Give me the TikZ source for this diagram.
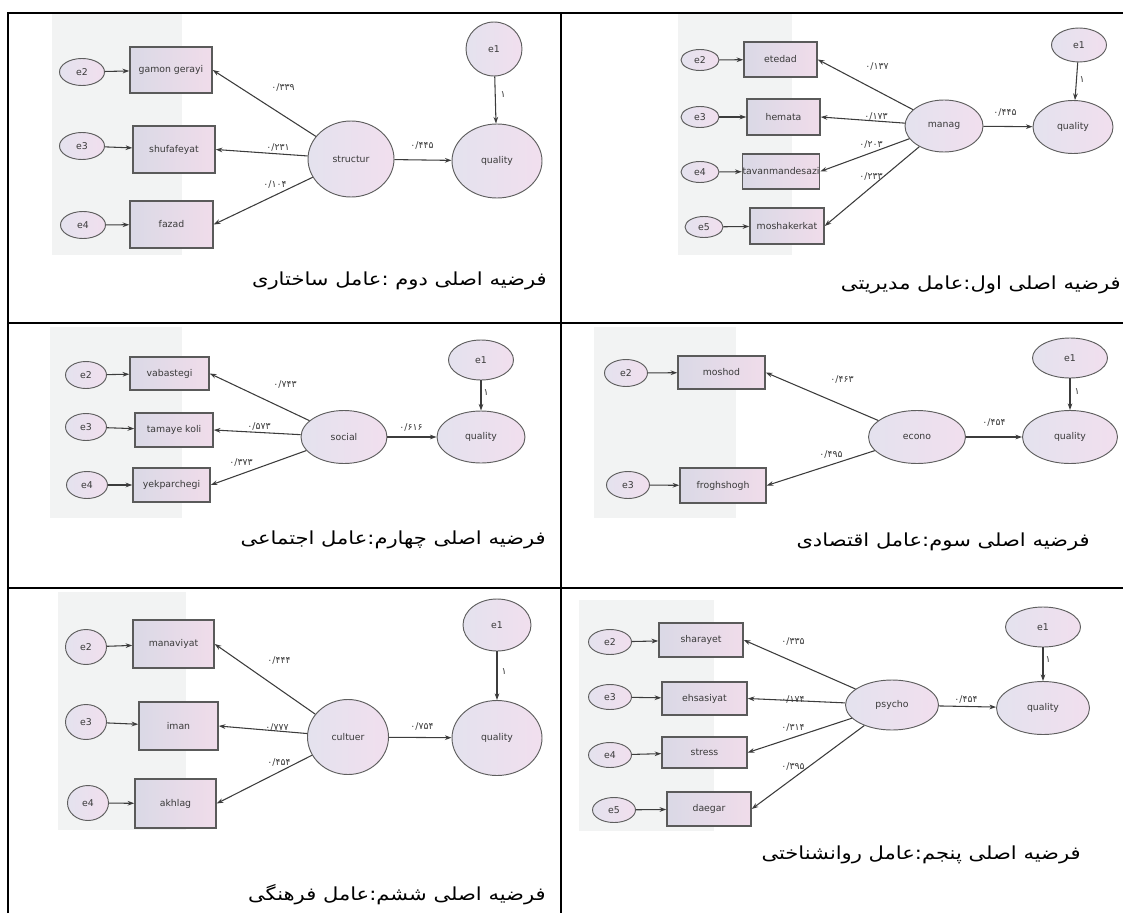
\documentclass[tikz,border=0pt]{standalone}
\usepackage{fontspec}
\setmainfont{DejaVu Sans}
\newfontfamily\persianfont[Script=Arabic]{DejaVu Sans}
\newfontfamily\persiancap[Script=Arabic,FakeStretch=1.17]{DejaVu Sans}
\TeXXeTstate=1
\usetikzlibrary{arrows.meta,shapes.geometric}
\definecolor{bgc}{HTML}{F2F3F3}
\definecolor{ellL}{HTML}{E4E2EE}
\definecolor{ellR}{HTML}{F1DFEE}
\definecolor{boxL}{HTML}{DAD9E6}
\definecolor{boxR}{HTML}{F0DCEA}
\definecolor{latline}{HTML}{5E5E5E}
\definecolor{boxline}{HTML}{5A5A5A}
\definecolor{arrc}{HTML}{3C3C3C}
\definecolor{txt}{HTML}{3A3A3A}
\tikzset{
  lat/.style={ellipse, draw=latline, line width=0.7pt, left color=ellL, right color=ellR, inner sep=0pt, font=\fontsize{7}{8}\selectfont, text=txt},
  obs/.style={rectangle, draw=boxline, line width=1.1pt, left color=boxL, right color=boxR, inner sep=0pt, font=\fontsize{7}{8}\selectfont, text=txt},
  arr/.style={-{Stealth[length=5pt,width=3.5pt]}, draw=arrc, line width=0.8pt},
  lbl/.style={font=\persianfont\fontsize{7}{8}\selectfont, text=txt, inner sep=0pt},
  captext/.style={font=\persiancap\fontsize{13.5}{15}\selectfont, anchor=east, inner sep=0pt},
  bgbox/.style={fill=bgc, draw=none},
  tbl/.style={line width=1.5pt, draw=black}
}
\newcommand\Lv[6]{\node[lat,minimum width={#4*0.75pt},minimum height={#5*0.75pt}] (#1) at (#2,#3) {#6};}
\newcommand\Ob[6]{\node[obs,minimum width={(#4-#2)*0.75pt},minimum height={(#5-#3)*0.75pt}] (#1) at ({(#2+#4)/2},{(#3+#5)/2}) {#6};}
\begin{document}
\begin{tikzpicture}[x=0.75pt,y=-0.75pt]
\useasboundingbox (0,0) rectangle (1123,913);
% gray backgrounds
\fill[bgbox] (52,13) rectangle (182,255);
\fill[bgbox] (678,13) rectangle (792,255);
\fill[bgbox] (50,327) rectangle (182,518);
\fill[bgbox] (594,327) rectangle (736,518);
\fill[bgbox] (58,592) rectangle (186,830);
\fill[bgbox] (579,600) rectangle (714,831);
% ---------- cell 1 : structur ----------
\Lv{a2}{82}{72}{45}{27}{e2}
\Lv{a3}{82}{146}{45}{27}{e3}
\Lv{a4}{83}{225}{45}{27}{e4}
\Ob{ab1}{130}{47}{212}{93}{gamon gerayi}
\Ob{ab2}{133}{126}{215}{173}{shufafeyat}
\Ob{ab3}{130}{201}{213}{248}{fazad}
\Lv{aS}{351}{159}{86}{76}{structur}
\Lv{aQ}{497}{161}{90}{74}{quality}
\Lv{ae1}{494}{49}{56}{54}{e1}
\draw[arr] (a2) -- (ab1);
\draw[arr] (a3) -- (ab2);
\draw[arr] (a4) -- (ab3);
\draw[arr] (aS) -- (ab1.east);
\draw[arr] (aS) -- (ab2.east);
\draw[arr] (aS) -- (ab3.east);
\draw[arr] (aS) -- (aQ);
\draw[arr] (ae1) -- (aQ);
\node[lbl] (al1) at (283,88) {۰/۳۳۹};
\node[lbl] (al2) at (278,148) {۰/۲۳۱};
\node[lbl] (al3) at (275,185) {۰/۱۰۴};
\node[lbl] (al4) at (422,146) {۰/۴۴۵};
\node[lbl] (al5) at (503,95) {۱};
\node[captext] (acap) at (547,281) {\beginR فرضیه اصلی دوم :عامل ساختاری\endR};
% ---------- cell 2 : manag ----------
\Lv{b2}{700}{60}{38}{21}{e2}
\Lv{b3}{700}{117}{38}{21}{e3}
\Lv{b4}{700}{172}{38}{21}{e4}
\Lv{b5}{704}{227}{38}{21}{e5}
\Ob{bb1}{744}{42}{817}{77}{etedad}
\Ob{bb2}{747}{99}{820}{135}{hemata}
\Ob{bb3}{744}{154}{818}{189}{tavanmandesazi}
\Ob{bb4}{750}{208}{824}{244}{moshakerkat}
\Lv{bS}{944}{126}{78}{52}{manag}
\Lv{bQ}{1073}{127}{80}{53}{quality}
\Lv{be1}{1079}{45}{55}{34}{e1}
\draw[arr] (b2) -- (bb1);
\draw[arr] (b3) -- (bb2);
\draw[arr] (b4) -- (bb3);
\draw[arr] (b5) -- (bb4);
\draw[arr] (bS) -- (bb1.east);
\draw[arr] (bS) -- (bb2.east);
\draw[arr] (bS) -- (bb3.east);
\draw[arr] (bS) -- (bb4.east);
\draw[arr] (bS) -- (bQ);
\draw[arr] (be1) -- (bQ);
\node[lbl] (bl1) at (877,67) {۰/۱۳۷};
\node[lbl] (bl2) at (876,117) {۰/۱۷۳};
\node[lbl] (bl3) at (871,145) {۰/۲۰۳};
\node[lbl] (bl4) at (871,177) {۰/۲۳۳};
\node[lbl] (bl5) at (1005,113) {۰/۴۴۵};
\node[lbl] (bl6) at (1082,80) {۱};
\node[captext] (bcap) at (1121,285) {\beginR فرضیه اصلی اول:عامل مدیریتی\endR};
% ---------- cell 3 : social ----------
\Lv{c2}{86}{375}{41}{27}{e2}
\Lv{c3}{86}{427}{41}{27}{e3}
\Lv{c4}{87}{485}{41}{27}{e4}
\Ob{cb1}{130}{357}{209}{390}{vabastegi}
\Ob{cb2}{135}{413}{213}{447}{tamaye koli}
\Ob{cb3}{133}{468}{210}{502}{yekparchegi}
\Lv{cS}{344}{437}{86}{53}{social}
\Lv{cQ}{481}{437}{88}{52}{quality}
\Lv{ce1}{481}{360}{65}{40}{e1}
\draw[arr] (c2) -- (cb1);
\draw[arr] (c3) -- (cb2);
\draw[arr] (c4) -- (cb3);
\draw[arr] (cS) -- (cb1.east);
\draw[arr] (cS) -- (cb2.east);
\draw[arr] (cS) -- (cb3.east);
\draw[arr] (cS) -- (cQ);
\draw[arr] (ce1) -- (cQ);
\node[lbl] (cl1) at (285,385) {۰/۷۴۳};
\node[lbl] (cl2) at (259,427) {۰/۵۷۳};
\node[lbl] (cl3) at (241,463) {۰/۳۷۳};
\node[lbl] (cl4) at (411,428) {۰/۶۱۶};
\node[lbl] (cl5) at (486,393) {۱};
\node[captext] (ccap) at (546,540) {\beginR فرضیه اصلی چهارم:عامل اجتماعی\endR};
% ---------- cell 4 : econo ----------
\Lv{d2}{626}{373}{43}{27}{e2}
\Lv{d3}{628}{485}{43}{27}{e3}
\Ob{db1}{678}{356}{765}{389}{moshod}
\Ob{db2}{680}{468}{766}{503}{froghshogh}
\Lv{dS}{917}{437}{97}{53}{econo}
\Lv{dQ}{1070}{437}{95}{53}{quality}
\Lv{de1}{1070}{358}{75}{40}{e1}
\draw[arr] (d2) -- (db1);
\draw[arr] (d3) -- (db2);
\draw[arr] (dS) -- (db1.east);
\draw[arr] (dS) -- (db2.east);
\draw[arr] (dS) -- (dQ);
\draw[arr] (de1) -- (dQ);
\node[lbl] (dl1) at (842,380) {۰/۴۶۳};
\node[lbl] (dl2) at (831,455) {۰/۴۹۵};
\node[lbl] (dl3) at (994,423) {۰/۴۵۴};
\node[lbl] (dl4) at (1077,392) {۱};
\node[captext] (dcap) at (1090,542) {\beginR فرضیه اصلی سوم:عامل اقتصادی\endR};
% ---------- cell 5 : cultuer ----------
\Lv{e2}{86}{647}{41}{35}{e2}
\Lv{e3}{86}{722}{41}{35}{e3}
\Lv{e4}{88}{803}{41}{35}{e4}
\Ob{eb1}{133}{620}{214}{668}{manaviyat}
\Ob{eb2}{139}{702}{218}{750}{iman}
\Ob{eb3}{135}{779}{216}{828}{akhlag}
\Lv{eS}{348}{737}{81}{75}{cultuer}
\Lv{eQ}{497}{738}{90}{75}{quality}
\Lv{ee1}{497}{625}{68}{52}{e1}
\draw[arr] (e2) -- (eb1);
\draw[arr] (e3) -- (eb2);
\draw[arr] (e4) -- (eb3);
\draw[arr] (eS) -- (eb1.east);
\draw[arr] (eS) -- (eb2.east);
\draw[arr] (eS) -- (eb3.east);
\draw[arr] (eS) -- (eQ);
\draw[arr] (ee1) -- (eQ);
\node[lbl] (el1) at (279,661) {۰/۴۴۴};
\node[lbl] (el2) at (277,728) {۰/۷۷۷};
\node[lbl] (el3) at (279,763) {۰/۴۵۴};
\node[lbl] (el4) at (422,727) {۰/۷۵۴};
\node[lbl] (el5) at (504,672) {۱};
\node[captext] (ecap) at (546,895) {\beginR فرضیه اصلی ششم:عامل فرهنگی\endR};
% ---------- cell 6 : psycho ----------
\Lv{f2}{610}{642}{43}{25}{e2}
\Lv{f3}{610}{697}{43}{25}{e3}
\Lv{f4}{610}{755}{43}{25}{e4}
\Lv{f5}{614}{810}{43}{25}{e5}
\Ob{fb1}{659}{623}{743}{657}{sharayet}
\Ob{fb2}{662}{682}{747}{715}{ehsasiyat}
\Ob{fb3}{662}{737}{747}{768}{stress}
\Ob{fb4}{667}{792}{751}{826}{daegar}
\Lv{fS}{892}{705}{93}{50}{psycho}
\Lv{fQ}{1043}{708}{93}{53}{quality}
\Lv{fe1}{1043}{627}{75}{40}{e1}
\draw[arr] (f2) -- (fb1);
\draw[arr] (f3) -- (fb2);
\draw[arr] (f4) -- (fb3);
\draw[arr] (f5) -- (fb4);
\draw[arr] (fS) -- (fb1.east);
\draw[arr] (fS) -- (fb2.east);
\draw[arr] (fS) -- (fb3.east);
\draw[arr] (fS) -- (fb4.east);
\draw[arr] (fS) -- (fQ);
\draw[arr] (fe1) -- (fQ);
\node[lbl] (fl1) at (793,642) {۰/۳۳۵};
\node[lbl] (fl2) at (793,700) {۰/۱۷۴};
\node[lbl] (fl3) at (793,728) {۰/۳۱۴};
\node[lbl] (fl4) at (793,767) {۰/۳۹۵};
\node[lbl] (fl5) at (966,700) {۰/۴۵۴};
\node[lbl] (fl6) at (1048,660) {۱};
\node[captext] (fcap) at (1081,855) {\beginR فرضیه اصلی پنجم:عامل روانشناختی\endR};
% ---------- table ----------
\draw[tbl] (8,913) -- (8,13) -- (1123,13);
\draw[tbl] (561,13) -- (561,913);
\draw[tbl] (8,323) -- (1123,323);
\draw[tbl] (8,588) -- (1123,588);
\end{tikzpicture}
\end{document}
